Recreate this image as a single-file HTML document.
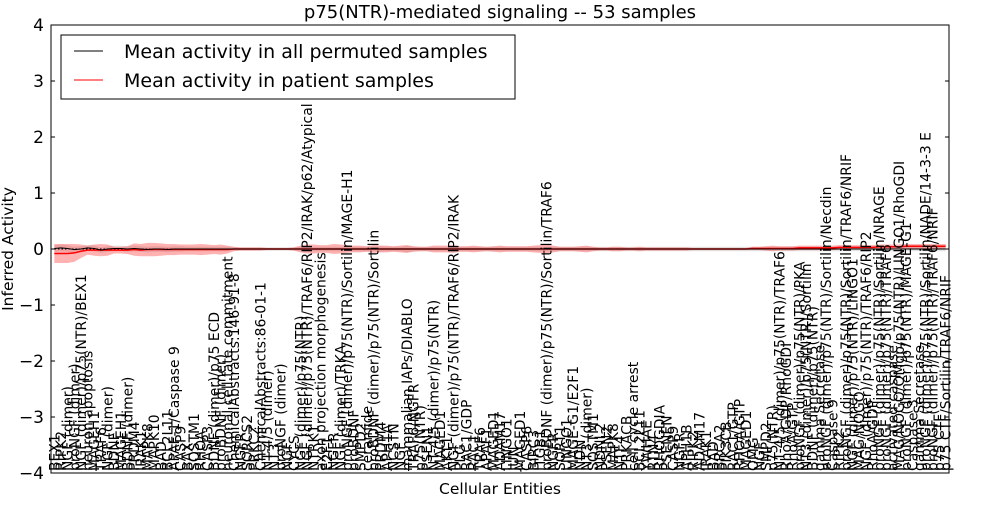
<!DOCTYPE html>
<html><head><meta charset="utf-8"><style>
body{margin:0;background:#fff;width:1000px;height:500px;overflow:hidden;font-family:"Liberation Sans","DejaVu Sans",sans-serif}
svg text{font-family:"DejaVu Sans","Liberation Sans",sans-serif}
</style></head><body>
<svg id="chart" width="1000" height="500" xmlns="http://www.w3.org/2000/svg">
<rect width="1000" height="500" fill="#fff"/>
<text x="500" y="18" text-anchor="middle" font-size="18">p75(NTR)-mediated signaling -- 53 samples</text>
<g id="plot"></g>
<text x="500" y="494" text-anchor="middle" font-size="15.5">Cellular Entities</text>
<text transform="translate(13,249) rotate(-90)" text-anchor="middle" font-size="15.5">Inferred Activity</text>
</svg>
<script>
const yTicks=[4,3,2,1,0,-1,-2,-3,-4];
const labels=["BEX1","RIPK2","NGF (dimer)","proNGF (dimer)","NGF (dimer)/p75(NTR)/BEX1","neuron apoptosis","MAGEH1","TRAF6","NGF (dimer)","BDNF","MAGEH1","BDNF (dimer)","PRDM4","IRAK1","MAPK8","MAPK10","BAD","BCL2L11","APAF-1/Caspase 9","CASP9","BAX","SQSTM1","RHOA","CASP3","BDNF (dimer)/p75 ECD","proBDNF (dimer)","neuronal cell fate commitment","ChemicalAbstracts:146-91-8","NGFR","SORCS2","PRKCZ","ChemicalAbstracts:86-01-1","NT-4/5 (dimer)","NT3","proNGF (dimer)","NGF","CYCS","NGF (dimer)/p75(NTR)","NGF (dimer)/p75(NTR)/TRAF6/RIP2/IRAK/p62/Atypical","NTRK1","axon projection morphogenesis","E2F1","NGFR","NGF (dimer)/TRKA","proNGF (dimer)/p75(NTR)/Sortilin/MAGE-H1","proBDNF","SMPD2","ceramide","proBDNF (dimer)/p75(NTR)/Sortilin","PRDM4","APH1A","NCSTN","NGF","mammalian IAPs/DIABLO","TRAF6/NGFR","p75(NTR)","PSEN1","NT-4/5 (dimer)/p75(NTR)","MAGED1","AKT1","NGF (dimer)/p75(NTR)/TRAF6/RIP2/IRAK","PLG","RAC1/GDP","RAC1","TRAF6","APAF1","MAGED1","ADAM17","LINGO1","JUN","MAGED1","CASP6","BIRC3","ITGB1","proBDNF (dimer)/p75(NTR)/Sortilin/TRAF6","NGFR","SORT1","LINGO1","MAGE-G1/E2F1","NDN","NT3 (dimer)","SQSTM1","NDNL2","PSEN2","MAPK8","NTF4","PRKACB","cell cycle arrest","BCL2L11","YWHAE","RTN4","RHOGDIA","PSENEN","CASP9","NGFR","APH1B","RIPK2","ADAM17","IRAK1","BAD","BRCA2","PIK3CB","RAC1/GTP","RHOA/GTP","MAGED1","OMG","NGF","SMPD2","p75(NTR)","NT-4/5 (dimer)/p75(NTR)/TRAF6","RhoA/GDP/RhoGDI","RhoA/GTP","proNGF (dimer)/p75(NTR)/PKA","NT3 (dimer)/p75(NTR)/Sortilin","BDNF (dimer)/p75(NTR)","gamma Secretase","proNGF (dimer)/p75(NTR)/Sortilin/Necdin","Caspase 9","RIPK2","proNGF (dimer)/p75(NTR)/Sortilin/TRAF6/NRIF","NGF (dimer)/p75(NTR)/LINGO1","MAG/NOGO","NGF (dimer)/p75(NTR)/TRAF6/RIP2","RhoA/GDP","proNGF (dimer)/p75(NTR)/Sortilin/NRAGE","proNGF (dimer)/p75(NTR)/TRAF6","activated caspase","MAG/NOGO/OMgp/p75(NTR)/LINGO1/RhoGDI","proNGF (dimer)/p75(NTR)/MAGE-G1","Caspase 3","gamma Secretase","proNGF (dimer)/p75(NTR)/Sortilin/NADE/14-3-3 E","proNGF (dimer)/p75(NTR)/TRAF6/NRIF","p75 CTF","p75 CTF/Sortilin/TRAF6/NRIF"];
const patientMean=[-0.08,-0.08,-0.08,-0.07,-0.04,-0.02,-0.02,-0.02,-0.02,-0.02,
-0.02,-0.02,-0.01,-0.02,-0.01,-0.01,-0.01,-0.01,-0.01,-0.01,
-0.01,-0.01,-0.01,-0.01,-0.01,-0.01,-0.01,0.00,0.00,0.00,
0.00,0.00,0.00,0.00,0.00,0.00,0.00,0.00,0.00,0.00,
0.00,0.00,0.00,0.00,0.00,0.00,0.00,0.00,0.00,0.00,
0.00,0.00,0.00,0.00,0.00,0.00,0.00,0.00,0.00,0.00,
0.00,0.00,0.00,0.00,0.00,0.00,0.00,0.00,0.00,0.00,
0.00,0.00,0.00,0.00,0.00,0.00,0.00,0.00,0.00,0.00,
0.00,0.00,0.00,0.00,0.00,0.00,0.00,0.00,0.00,0.00,
0.00,0.00,0.00,0.00,0.00,0.00,0.00,0.00,0.00,0.00,
0.00,0.00,0.00,0.00,0.00,0.01,0.01,0.01,0.01,0.01,
0.01,0.01,0.02,0.02,0.02,0.02,0.02,0.02,0.03,0.03,
0.03,0.03,0.03,0.03,0.04,0.04,0.04,0.04,0.05,0.05,
0.05,0.05,0.05,0.05,0.05];
const patientSpread=[0.17,0.17,0.17,0.16,0.12,0.08,0.10,0.11,0.10,0.06,
0.06,0.07,0.11,0.11,0.12,0.12,0.11,0.10,0.10,0.09,
0.09,0.09,0.10,0.09,0.08,0.09,0.07,0.04,0.03,0.03,
0.03,0.03,0.02,0.02,0.02,0.02,0.03,0.06,0.08,0.08,
0.07,0.07,0.09,0.08,0.07,0.06,0.06,0.05,0.07,0.06,
0.06,0.05,0.06,0.07,0.05,0.04,0.04,0.06,0.06,0.06,
0.07,0.05,0.05,0.06,0.05,0.04,0.05,0.06,0.05,0.05,
0.05,0.05,0.06,0.07,0.08,0.06,0.04,0.04,0.04,0.05,
0.06,0.04,0.03,0.03,0.04,0.04,0.03,0.03,0.04,0.03,
0.03,0.03,0.03,0.03,0.03,0.03,0.02,0.02,0.02,0.02,
0.02,0.02,0.02,0.02,0.02,0.03,0.03,0.04,0.05,0.04,
0.04,0.04,0.04,0.04,0.04,0.04,0.04,0.04,0.04,0.04,
0.04,0.04,0.04,0.04,0.04,0.04,0.04,0.04,0.04,0.04,
0.04,0.04,0.04,0.04,0.04];
const permutedMean=[0.01,0.02,0.01,-0.01,0.00,0.02,0.01,-0.02,0.00,0.01,
0.01,0.00,0.01,0.00,-0.01,0.00,0.00,-0.01,0.00,0.00,
0.00,0.00,0.00,0.00,0.00,0.00,0.00,0.00,0.00,0.00,
0.00,0.00,0.00,0.00,0.00,0.00,0.00,0.00,0.00,0.00,
0.00,0.00,0.00,0.00,0.00,0.00,0.00,0.00,0.00,0.00,
0.00,0.00,0.00,0.00,0.00,0.00,0.00,0.00,0.00,0.00,
0.00,0.00,0.00,0.00,0.00,0.00,0.00,0.00,0.00,0.00,
0.00,0.00,0.00,0.00,0.00,0.00,0.00,0.00,0.00,0.00,
0.00,0.00,0.00,0.00,0.00,0.00,0.00,0.00,0.00,0.00,
0.00,0.00,0.00,0.00,0.00,0.00,0.00,0.00,0.00,0.00,
0.00,0.00,0.00,0.00,0.00,0.00,0.00,0.00,0.00,0.00,
0.00,0.00,0.00,0.00,0.00,0.00,0.00,0.00,0.00,0.00,
0.00,0.00,0.00,0.00,0.00,0.00,0.00,0.00,0.00,0.00,
0.00,0.00,0.00,0.00,0.00];
const permutedSpread=[0.06,0.06,0.06,0.05,0.05,0.05,0.05,0.05,0.05,0.05,
0.05,0.05,0.05,0.05,0.05,0.05,0.05,0.05,0.05,0.05,
0.04,0.04,0.04,0.04,0.04,0.04,0.04,0.03,0.03,0.03,
0.03,0.03,0.03,0.03,0.03,0.03,0.03,0.04,0.04,0.04,
0.04,0.04,0.04,0.04,0.04,0.04,0.04,0.04,0.04,0.05,
0.04,0.04,0.04,0.06,0.04,0.04,0.04,0.04,0.04,0.04,
0.04,0.04,0.04,0.04,0.04,0.04,0.04,0.04,0.04,0.04,
0.04,0.04,0.04,0.04,0.04,0.04,0.04,0.04,0.04,0.04,
0.04,0.04,0.04,0.04,0.04,0.04,0.04,0.04,0.04,0.04,
0.04,0.04,0.04,0.04,0.04,0.04,0.04,0.04,0.04,0.04,
0.04,0.04,0.04,0.04,0.04,0.04,0.04,0.04,0.04,0.04,
0.04,0.04,0.04,0.04,0.04,0.04,0.04,0.04,0.04,0.04,
0.04,0.04,0.04,0.04,0.04,0.04,0.04,0.04,0.04,0.04,
0.04,0.04,0.04,0.04,0.04];

const L=51,R=949,T=25,B=473,N=labels.length;
const NS='http://www.w3.org/2000/svg';
const g=document.getElementById('plot');
function xs(i){return L+(i+0.5)*(R-L)/N;}
function ys(v){return T+(4-v)*(B-T)/8;}
function mk(tag,attrs,parent){const e=document.createElementNS(NS,tag);for(const k in attrs)e.setAttribute(k,attrs[k]);(parent||g).appendChild(e);return e;}
function band(mean,spread){let p=[];for(let i=0;i<N;i++)p.push(xs(i)+','+ys(mean[i]+spread[i]));for(let i=N-1;i>=0;i--)p.push(xs(i)+','+ys(mean[i]-spread[i]));return p.join(' ');}
function line(mean){let p=[];for(let i=0;i<N;i++)p.push(xs(i)+','+ys(mean[i]));return p.join(' ');}

const gb=mk('polygon',{points:band(permutedMean,permutedSpread),fill:'#bbbbbb','fill-opacity':'0.4'});


const rb=mk('polygon',{points:band(patientMean,patientSpread),fill:'#ff0000','fill-opacity':'0.3'});


const zl=mk('line',{x1:L,x2:R,y1:ys(0),y2:ys(0),stroke:'#000','stroke-dasharray':'1.5,2','stroke-width':1});


const rl=mk('polyline',{points:line(patientMean),fill:'none',stroke:'#ff0000','stroke-width':1.5});


const bl=mk('polyline',{points:line(permutedMean),fill:'none',stroke:'#000','stroke-width':1});



for(let i=0;i<N;i++){
  const t=mk('text',{x:0,y:0,transform:'translate('+(xs(i)+5)+','+(B-2)+') rotate(-90)','font-size':'13.9'});
  t.textContent=labels[i];
  
  
}
for(const v of yTicks){
  const y=ys(v);
  mk('line',{x1:L,x2:L+4,y1:y,y2:y,stroke:'#000'});
  mk('line',{x1:R-4,x2:R,y1:y,y2:y,stroke:'#000'});
  const t=mk('text',{x:L-7,y:y+6,'text-anchor':'end','font-size':'17'});
  t.textContent=String(v).replace('-','\u2212');
  
  
}
const fr=mk('rect',{x:L,y:T,width:R-L,height:B-T,fill:'none',stroke:'#000','stroke-width':1});



const lg=mk('g',{});


mk('rect',{x:61,y:35,width:454,height:64,fill:'#fff',stroke:'#000'},lg);
mk('line',{x1:74,x2:103,y1:51,y2:51,stroke:'#000'},lg);
mk('line',{x1:74,x2:103,y1:80,y2:80,stroke:'#ff0000'},lg);
const l1=mk('text',{x:124,y:58,'font-size':'19'},lg);l1.textContent='Mean activity in all permuted samples';


const l2=mk('text',{x:124,y:87,'font-size':'19'},lg);l2.textContent='Mean activity in patient samples';


</script>
</body></html>
